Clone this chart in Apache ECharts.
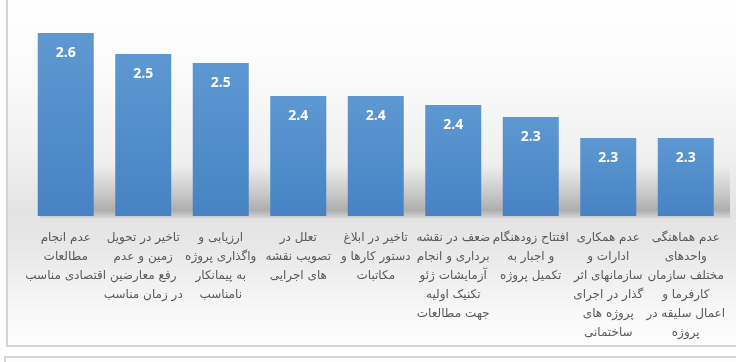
<!DOCTYPE html>
<html>
<head>
<meta charset="utf-8">
<script src="https://cdn.jsdelivr.net/npm/echarts@6/dist/echarts.min.js"></script>
<style>
html,body{margin:0;padding:0;background:#fff;}
#c{width:736px;height:362px;}
</style>
</head>
<body>
<div id="c"></div>
<script>
var categories = [
  'عدم انجام\nمطالعات\nاقتصادی مناسب',
  'تاخیر در تحویل\nزمین و عدم\nرفع معارضین\nدر زمان مناسب',
  'ارزیابی و\nواگذاری پروژه\nبه پیمانکار\nنامناسب',
  'تعلل در\nتصویب نقشه\nهای اجرایی',
  'تاخیر در ابلاغ\nدستور کارها و\nمکاتبات',
  'ضعف در نقشه\nبرداری و انجام\nآزمایشات ژئو\nتکنیک اولیه\nجهت مطالعات',
  'افتتاح زودهنگام\nو اجبار به\nتکمیل پروژه',
  'عدم همکاری\nادارات و\nسازمانهای اثر\nگذار در اجرای\nپروژه های\nساختمانی',
  'عدم هماهنگی\nواحدهای\nمختلف سازمان\nکارفرما و\nاعمال سلیقه در\nپروژه'
];
var values = [2.61, 2.54, 2.51, 2.40, 2.40, 2.37, 2.33, 2.26, 2.26];

var chart = echarts.init(document.getElementById('c'), null, {renderer: 'canvas'});
chart.setOption({
  animation: false,
  graphic: [
    {
      type: 'rect', z: -10, silent: true,
      shape: {x: 7, y: -2, width: 740, height: 348},
      style: {
        fill: new echarts.graphic.LinearGradient(0, 0, 0, 1, [
          {offset: 0, color: '#ffffff'},
          {offset: 0.2, color: '#fbfbfb'},
          {offset: 0.45, color: '#f0f0f0'},
          {offset: 0.62, color: '#e3e3e3'},
          {offset: 0.72, color: '#e8e8e8'},
          {offset: 0.9, color: '#f8f8f8'},
          {offset: 1, color: '#fdfdfd'}
        ]),
        stroke: '#d4d4d4', lineWidth: 2
      }
    },
    {
      type: 'rect', z: -9, silent: true,
      shape: {x: 40, y: 166, width: 690, height: 52},
      style: {
        fill: new echarts.graphic.LinearGradient(0, 0, 0, 1, [
          {offset: 0, color: 'rgba(0,0,0,0)'},
          {offset: 0.55, color: 'rgba(0,0,0,0.14)'},
          {offset: 0.85, color: 'rgba(0,0,0,0.24)'},
          {offset: 1, color: 'rgba(0,0,0,0.06)'}
        ])
      }
    },
    {
      type: 'rect', z: -10, silent: true,
      shape: {x: 5, y: 357, width: 740, height: 20},
      style: {fill: '#fdfdfd', stroke: '#d4d4d4', lineWidth: 2}
    }
  ],
  grid: {left: 27, right: 11.5, top: 6, bottom: 146, containLabel: false},
  xAxis: {
    type: 'category',
    data: categories,
    axisLine: {show: false},
    axisTick: {show: false},
    axisLabel: {
      interval: 0,
      margin: 12,
      color: '#595959',
      fontFamily: 'DejaVu Sans',
      fontSize: 12,
      lineHeight: 19,
      align: 'center'
    }
  },
  yAxis: {
    type: 'value',
    min: 2.0,
    max: 2.7,
    show: false,
    splitLine: {show: false}
  },
  series: [{
    type: 'bar',
    data: values,
    barWidth: 56,
    itemStyle: {
      color: new echarts.graphic.LinearGradient(0, 0, 0, 1, [
        {offset: 0, color: '#5d98d2'},
        {offset: 1, color: '#4783c4'}
      ])
    },
    label: {
      show: true,
      position: 'insideTop',
      distance: 13,
      color: '#ffffff',
      fontFamily: 'Open Sans',
      fontWeight: 'bold',
      fontSize: 14,
      formatter: function (p) { return p.value.toFixed(1); }
    }
  }]
});
</script>
</body>
</html>
